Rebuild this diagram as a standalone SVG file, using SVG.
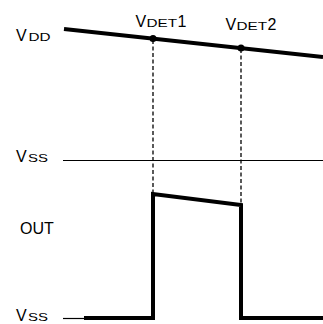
<svg xmlns="http://www.w3.org/2000/svg" width="323" height="324" viewBox="0 0 323 324">
<style>
text{font-family:"Liberation Sans",Arial,sans-serif;fill:#000;font-size:16px}
.s{font-size:10.2px}
.thick{stroke:#000;stroke-width:4;fill:none}
.thin{stroke:#000;stroke-width:1.2;fill:none}
.dash{stroke:#000;stroke-width:1.3;stroke-dasharray:4 2.5;fill:none}
</style>
<rect width="323" height="324" fill="#fff"/>
<g id="labels">
<text x="16" y="41.3">V</text><text class="s" x="28.5" y="41.3" textLength="22" lengthAdjust="spacingAndGlyphs">DD</text>
<text x="135.5" y="26.5">V</text><text class="s" x="146.5" y="26.5" textLength="30.5" lengthAdjust="spacingAndGlyphs">DET</text><text x="177.5" y="26.5">1</text>
<text x="225.5" y="29.5">V</text><text class="s" x="236.5" y="29.5" textLength="30.5" lengthAdjust="spacingAndGlyphs">DET</text><text x="267.5" y="29.5">2</text>
<text x="16" y="162.3">V</text><text class="s" x="28" y="162.3" textLength="20" lengthAdjust="spacingAndGlyphs">SS</text>
<text x="20" y="234" font-size="16.5">OUT</text>
<text x="16" y="321">V</text><text class="s" x="28" y="321" textLength="20" lengthAdjust="spacingAndGlyphs">SS</text>
</g>
<g id="connectors">
<line class="thick" x1="64" y1="29" x2="323" y2="57"/>
<line class="thin" x1="63" y1="160.5" x2="323" y2="160.5"/>
<line class="thin" x1="63" y1="318.5" x2="86" y2="318.5"/>
<line class="dash" x1="153" y1="40" x2="153" y2="194"/>
<line class="dash" x1="241" y1="49" x2="241" y2="205"/>
<polyline class="thick" points="84,318 153,318 153,194 241,205 241,318 323,318"/>
<circle cx="153" cy="38.5" r="3.5"/>
<circle cx="241" cy="48" r="3.5"/>
</g>
</svg>
